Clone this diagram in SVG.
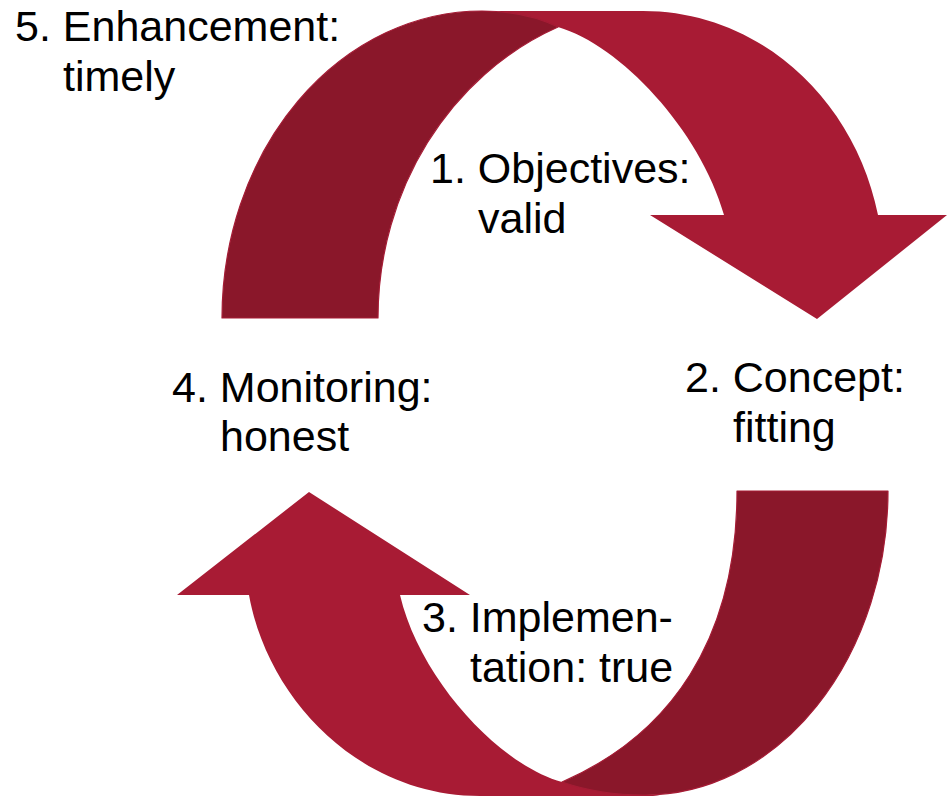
<svg xmlns="http://www.w3.org/2000/svg" width="947" height="797" viewBox="0 0 947 797">
  <style>
    .front { fill: #a81b34; }
    .back { fill: #8a172a; stroke: #a51c35; stroke-width: 1.2; stroke-linejoin: round; }
    .lbl { font-family: "Liberation Sans", Arial, sans-serif; font-size: 43px; fill: #000000; }
  </style>
  <rect width="947" height="797" fill="#ffffff"/>
  <g id="connectors">
    <g id="arrow-top">
      <path class="front" d="M 497,11 L 643,11 C 760,11 855,100 878,215 L 947,215 L 817,319 L 650,215 L 724,215 C 700,130 620,45 558,27 Z"/>
      <path class="back" d="M 222,318 A 260 307 0 0 1 482,11 C 515,11 540,18 558,27 C 450,75 378,190 378,318 Z"/>
    </g>
    <g id="arrow-bottom">
      <path class="front" d="M 660,796 L 480,796 C 360,796 268,700 249,595 L 177,595 L 309,492 L 470,595 L 400,595 C 420,680 500,765 562,782 Z"/>
      <path class="back" d="M 888,491 A 243 304 0 0 1 645,795 C 615,795 588,791 562,782 C 670,735 737,640 737,491 Z"/>
    </g>
  </g>
  <g id="node-5">
    <text class="lbl" x="15" y="41">5. Enhancement:</text>
    <text class="lbl" x="63" y="91">timely</text>
  </g>
  <g id="node-1">
    <text class="lbl" x="430" y="183">1. Objectives:</text>
    <text class="lbl" x="478" y="233">valid</text>
  </g>
  <g id="node-2">
    <text class="lbl" x="685" y="392">2. Concept:</text>
    <text class="lbl" x="733" y="442">fitting</text>
  </g>
  <g id="node-3">
    <text class="lbl" x="422" y="632">3. Implemen-</text>
    <text class="lbl" x="470" y="682">tation: true</text>
  </g>
  <g id="node-4">
    <text class="lbl" x="172" y="402">4. Monitoring:</text>
    <text class="lbl" x="220" y="451">honest</text>
  </g>
</svg>
